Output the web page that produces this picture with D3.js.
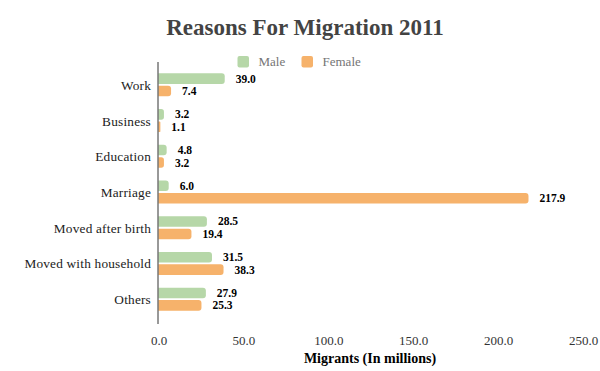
<!DOCTYPE html>
<html><head><meta charset="utf-8">
<script src="https://cdn.jsdelivr.net/npm/d3@7"></script>
<style>body{margin:0;background:#fff}svg{display:block}</style>
</head><body>
<svg id="c" width="600" height="371"></svg>
<script>
const categories = ["Work","Business","Education","Marriage","Moved after birth","Moved with household","Others"];
const seriesNames = ["Male","Female"];
const maleValues = [39.0,3.2,4.8,6.0,28.5,31.5,27.9];
const femaleValues = [7.4,1.1,3.2,217.9,19.4,38.3,25.3];
const xTicks = [0,50,100,150,200,250];
const colors = {Male:"#b6d7a8", Female:"#f6b26b"};

const FF = "Liberation Serif";
const svg = d3.select("#c");
const x = d3.scaleLinear().domain([0,250]).range([158.5,583]);
const y = d3.scaleBand().domain(categories).range([67,317]);
const data = categories.map((c,i)=>({cat:c, Male:maleValues[i], Female:femaleValues[i]}));

svg.append("text").attr("x",305).attr("y",35).attr("text-anchor","middle")
  .attr("font-family",FF).attr("font-weight","bold").attr("font-size",23).attr("fill","#434343")
  .text("Reasons For Migration 2011");

// legend
const leg = [{n:"Male",sx:237.5,tx:258.5},{n:"Female",sx:301.5,tx:322.5}];
leg.forEach(l=>{
  svg.append("rect").attr("x",l.sx).attr("y",56).attr("width",11.5).attr("height",11.5).attr("rx",2).attr("fill",colors[l.n]);
  svg.append("text").attr("x",l.tx).attr("y",66).attr("font-family",FF).attr("font-size",13).attr("fill","#757575").text(l.n);
});

const groups = svg.selectAll("g.grp").data(data).join("g").attr("class","grp");
groups.each(function(d){
  const g = d3.select(this);
  const c = y(d.cat)+y.bandwidth()/2;
  const inner = d3.scaleBand().domain(seriesNames).range([c-11.5,c+11.5]).paddingInner(0.15);
  seriesNames.forEach(s=>{
    const w = x(d[s])-x(0);
    const h = inner.bandwidth();
    const r = Math.min(3, w/2);
    const x0 = x(0), y0 = inner(s);
    g.append("path").attr("fill",colors[s])
      .attr("d",`M${x0},${y0}H${x0+w-r}Q${x0+w},${y0} ${x0+w},${y0+r}V${y0+h-r}Q${x0+w},${y0+h} ${x0+w-r},${y0+h}H${x0}Z`);
    g.append("text").attr("x",x(d[s])+11).attr("y",y0+h/2+4)
      .attr("font-family",FF).attr("font-weight","bold").attr("font-size",11.5).attr("fill","#000")
      .text(d[s].toFixed(1));
  });
  g.append("text").attr("x",151).attr("y",c+5).attr("text-anchor","end")
    .attr("font-family",FF).attr("font-size",13.3).attr("letter-spacing",0.2).attr("fill","#222").text(d.cat);
});

svg.append("line").attr("x1",158).attr("x2",158).attr("y1",62).attr("y2",324).attr("stroke","#333").attr("stroke-width",1);

const xAxis = d3.axisBottom(x).tickValues(xTicks).tickFormat(d3.format(".1f")).tickSize(0);
const ax = svg.append("g").attr("transform","translate(0,333)").call(xAxis);
ax.attr("font-family",FF).attr("font-size",13);
ax.select(".domain").remove();
ax.selectAll("text").attr("font-family",FF).attr("font-size",13).attr("fill","#333").attr("dy","0.71em");

svg.append("text").attr("x",370).attr("y",363).attr("text-anchor","middle")
  .attr("font-family",FF).attr("font-weight","bold").attr("font-size",14).attr("fill","#000")
  .text("Migrants (In millions)");
</script>
</body></html>
